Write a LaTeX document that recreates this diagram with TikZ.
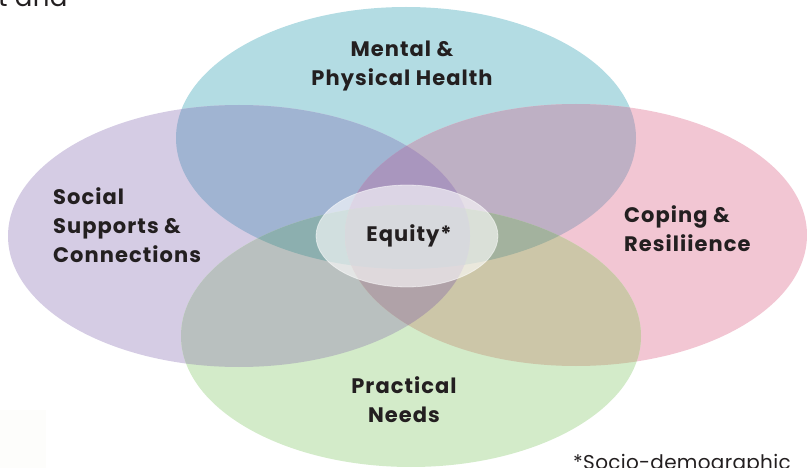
\documentclass[tikz,border=0pt]{standalone}
\usepackage{fontspec}
\setmainfont{Poppins}
\newfontfamily\lblfont{Poppins}[LetterSpace=5]
\newfontfamily\notefont{Poppins}[LetterSpace=1.5]
\begin{document}
% region colours of the four-circle model
\definecolor{cB}{RGB}{179,220,227}
\definecolor{cPu}{RGB}{213,204,228}
\definecolor{cPk}{RGB}{242,198,211}
\definecolor{cG}{RGB}{211,235,201}
\definecolor{cBPu}{RGB}{160,180,210}
\definecolor{cBPk}{RGB}{190,176,196}
\definecolor{cBG}{RGB}{165,205,195}
\definecolor{cPuPk}{RGB}{190,160,190}
\definecolor{cPuG}{RGB}{185,192,191}
\definecolor{cPkG}{RGB}{204,198,168}
\definecolor{cBPuPk}{RGB}{169,150,190}
\definecolor{cBPuG}{RGB}{140,175,175}
\definecolor{cBPkG}{RGB}{163,178,158}
\definecolor{cPuPkG}{RGB}{176,162,168}
\definecolor{cAll}{RGB}{157,162,172}
\definecolor{txt}{RGB}{35,31,32}
\definecolor{tile}{RGB}{253,253,251}
\begin{tikzpicture}[x=1pt,y=-1pt,
  lbl/.style={font=\lblfont\bfseries\fontsize{21}{29}\selectfont, text=txt, inner sep=0pt},
  note/.style={font=\notefont\fontsize{20}{24}\selectfont, text=txt, inner sep=0pt}]
\useasboundingbox (0,0) rectangle (807,468);
\clip (0,0) rectangle (807,468);
% the four domains
\def\eB{(406,138) ellipse [x radius=230, y radius=131]}
\def\ePu{(239,236) ellipse [x radius=231, y radius=131]}
\def\ePk{(576,235) ellipse [x radius=231, y radius=131]}
\def\eG{(411,336) ellipse [x radius=230, y radius=131]}
% faint tile in the corner
\fill[tile] (0,410) rectangle (46,468);
% single regions
\fill[cB] \eB; \fill[cPu] \ePu; \fill[cPk] \ePk; \fill[cG] \eG;
% pairwise overlaps
\begin{scope}\clip \eB; \fill[cBPu] \ePu; \fill[cBPk] \ePk; \fill[cBG] \eG;\end{scope}
\begin{scope}\clip \ePu; \fill[cPuPk] \ePk; \fill[cPuG] \eG;\end{scope}
\begin{scope}\clip \ePk; \fill[cPkG] \eG;\end{scope}
% triple overlaps
\begin{scope}\clip \eB; \clip \ePu; \fill[cBPuPk] \ePk; \fill[cBPuG] \eG;\end{scope}
\begin{scope}\clip \eB; \clip \ePk; \fill[cBPkG] \eG;\end{scope}
\begin{scope}\clip \ePu; \clip \ePk; \fill[cPuPkG] \eG;
  \clip \eG; \fill[cAll] \eB;\end{scope}
% central equity ellipse
\fill[white, fill opacity=0.6] (407,236) ellipse [x radius=91, y radius=51];
\draw[white, opacity=0.5, line width=0.8pt] (407,236) ellipse [x radius=91, y radius=51];
% labels
\node[lbl, align=center] (mph) at (402,66) {Mental \&\\Physical Health};
\node[lbl, align=left, anchor=west] (ssc) at (53,225) {Social\\Supports \&\\Connections};
\node[lbl, align=left, anchor=west] (cr) at (624,229) {Coping \&\\Resiliience};
\node[lbl] (eq) at (409,236) {Equity*};
\node[lbl, align=center] (pn) at (404,400) {Practical\\Needs};
\node[note, anchor=base west] (sd) at (573,469) {*Socio-demographic};
\node[note, font=\notefont\fontsize{26}{30}\selectfont, anchor=base west] (ta) at (-2,7) {t and};
\end{tikzpicture}
\end{document}
